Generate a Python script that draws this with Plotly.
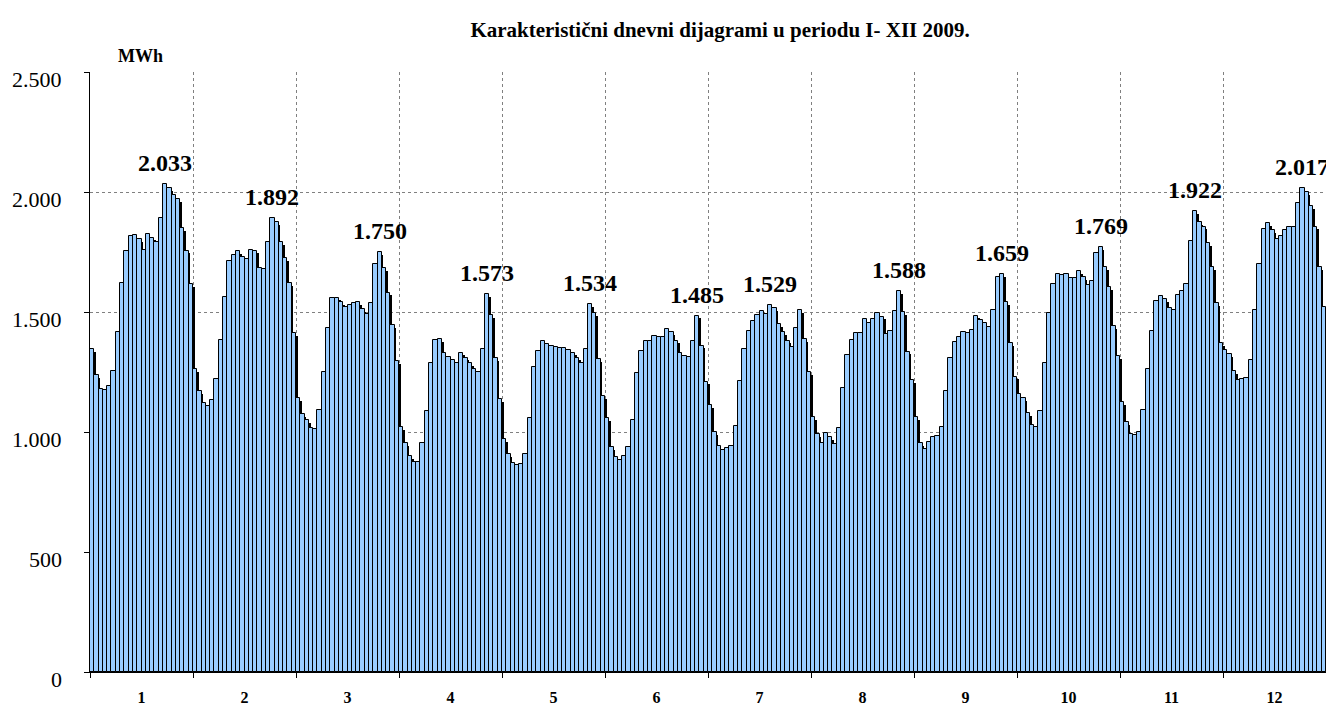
import plotly.graph_objects as go
import numpy as np

# hourly values (MWh), one list of 24 hours per month
m1 = [1347, 1236, 1180, 1175, 1192, 1256, 1415, 1622, 1756, 1817, 1821, 1804, 1758, 1824, 1810, 1793, 1892, 2033, 2018, 1988, 1969, 1851, 1756, 1615]
m2 = [1264, 1169, 1122, 1110, 1133, 1221, 1383, 1563, 1712, 1737, 1754, 1728, 1721, 1758, 1756, 1685, 1678, 1793, 1892, 1876, 1793, 1726, 1619, 1414]
m3 = [1143, 1075, 1050, 1015, 1011, 1090, 1251, 1432, 1560, 1560, 1543, 1522, 1528, 1536, 1540, 1511, 1490, 1536, 1699, 1750, 1682, 1581, 1446, 1297]
m4 = [1019, 953, 900, 876, 876, 953, 1087, 1286, 1383, 1386, 1328, 1314, 1300, 1289, 1331, 1310, 1289, 1261, 1251, 1344, 1573, 1486, 1307, 1136]
m5 = [972, 907, 869, 862, 865, 907, 1057, 1272, 1337, 1381, 1367, 1358, 1356, 1349, 1351, 1342, 1331, 1310, 1289, 1347, 1534, 1497, 1304, 1151]
m6 = [1057, 939, 894, 883, 900, 939, 1050, 1244, 1337, 1379, 1381, 1400, 1394, 1394, 1431, 1415, 1381, 1330, 1318, 1311, 1381, 1485, 1360, 1210]
m7 = [1112, 1001, 942, 925, 932, 942, 1026, 1214, 1346, 1421, 1464, 1487, 1506, 1492, 1529, 1515, 1450, 1418, 1381, 1355, 1432, 1508, 1386, 1250]
m8 = [1061, 990, 955, 997, 980, 949, 1017, 1182, 1321, 1383, 1411, 1411, 1469, 1456, 1469, 1494, 1481, 1408, 1419, 1503, 1588, 1501, 1335, 1215]
m9 = [1061, 955, 928, 960, 980, 983, 1022, 1172, 1307, 1376, 1397, 1415, 1414, 1425, 1485, 1467, 1453, 1436, 1508, 1647, 1659, 1543, 1369, 1231]
m10 = [1158, 1143, 1078, 1029, 1019, 1089, 1289, 1497, 1617, 1658, 1654, 1657, 1643, 1640, 1671, 1644, 1612, 1631, 1744, 1769, 1689, 1603, 1443, 1318]
m11 = [1126, 1043, 992, 988, 1001, 1092, 1261, 1421, 1546, 1568, 1554, 1515, 1508, 1571, 1589, 1617, 1797, 1922, 1876, 1856, 1786, 1689, 1536, 1372]
m12 = [1342, 1325, 1255, 1217, 1219, 1224, 1300, 1508, 1699, 1846, 1869, 1842, 1803, 1817, 1842, 1856, 1856, 1956, 2017, 1999, 1942, 1856, 1689, 1519]

months = [m1, m2, m3, m4, m5, m6, m7, m8, m9, m10, m11, m12]
month_labels = ["1", "2", "3", "4", "5", "6", "7", "8", "9", "10", "11", "12"]
y_ticks = [0, 500, 1000, 1500, 2000, 2500]
y_ticktext = ["0", "500", "1.000", "1.500", "2.000", "2.500"]

y = np.concatenate(months)
x = np.arange(len(y))
serif = "Liberation Serif, Times New Roman, serif"

fig = go.Figure()

# black drop shadow behind each bar (offset right / down)
fig.add_trace(go.Bar(x=x + 0.38, y=y - 12, width=1, marker_color="black",
                     marker_line_width=0, showlegend=False, hoverinfo="skip"))

fig.add_trace(go.Bar(x=x, y=y, width=1, marker_color="#99CCFF",
                     marker_line=dict(color="black", width=1),
                     showlegend=False, name="MWh"))

# peak labels per month
for i, m in enumerate(months):
    k = int(np.argmax(m))
    v = m[k]
    fig.add_annotation(x=i * 24 + k, y=v, text="<b>%d.%03d</b>" % (v // 1000, v % 1000),
                       showarrow=False, xanchor="center", yanchor="middle", yshift=21,
                       font=dict(family=serif, size=24, color="black"))

# y tick labels (sit slightly below their gridlines, as in the original)
for v, t in zip(y_ticks, y_ticktext):
    fig.add_annotation(x=0, xref="paper", y=v, text=t, showarrow=False,
                       xanchor="right", yanchor="middle", xshift=-26, yshift=-7,
                       font=dict(family=serif, size=22, color="black"))

fig.add_annotation(x=0.0405, y=1, xref="paper", yref="paper", text="<b>MWh</b>",
                   showarrow=False, xanchor="center", yanchor="bottom", yshift=4,
                   font=dict(family=serif, size=18, color="black"))

fig.update_layout(
    width=1326, height=705,
    margin=dict(l=82, r=8, t=64, b=41),
    plot_bgcolor="white", paper_bgcolor="white",
    barmode="overlay", bargap=0,
    title=dict(text="<b>Karakteristični dnevni dijagrami u periodu I- XII 2009.</b>",
               x=0.537, xanchor="center", y=0.969, yanchor="middle",
               font=dict(family=serif, size=21, color="black")),
)

fig.update_xaxes(
    range=[-0.5, len(y) - 0.5],
    tickvals=[i * 24 + 11.5 for i in range(12)],
    ticktext=["<b>%s</b>" % t for t in month_labels],
    ticks="", showgrid=False, ticklabelstandoff=11,
    tickfont=dict(family=serif, size=16, color="black"),
    showline=True, linecolor="black", linewidth=1,
    minor=dict(tickvals=[i * 24 - 0.5 for i in range(13)], showgrid=True,
               griddash="dot", gridcolor="#808080", gridwidth=1,
               ticks="outside", ticklen=5, tickcolor="black"),
)

fig.update_yaxes(
    range=[0, 2500], tickvals=y_ticks, showticklabels=False,
    showgrid=True, griddash="dot", gridcolor="#808080", gridwidth=1,
    ticks="outside", ticklen=5, tickcolor="black",
    showline=True, linecolor="black", linewidth=1,
    zeroline=False,
)

fig.write_html("out.html")
